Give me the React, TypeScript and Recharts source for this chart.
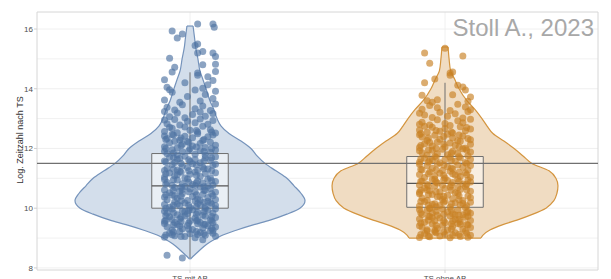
import React from 'react';
import {
  ComposedChart,
  Area,
  Scatter,
  XAxis,
  YAxis,
  CartesianGrid,
  ReferenceArea,
  ReferenceLine,
} from 'recharts';

const categories = ['TS mit AB', 'TS ohne AB'];
const yTicks = [8, 10, 12, 14, 16];
const gridLevels = [8, 9, 10, 11, 12, 13, 14, 15, 16];
const refLevel = 11.5;

// violin outline: half width (in category units) at each level, null = outside range
const levels = [8.3, 8.45, 8.6, 8.8, 9.0, 9.1, 9.27, 9.45, 9.6, 9.8, 10.0, 10.25, 10.5, 10.75, 11.0, 11.25, 11.5, 11.75, 12.0, 12.25, 12.5, 12.75, 13.0, 13.3, 13.6, 14.0, 14.3, 14.6, 15.0, 15.4, 15.7, 16.1];
const mitWidth = [0.002, 0.02, 0.039, 0.067, 0.106, 0.129, 0.184, 0.251, 0.314, 0.38, 0.431, 0.451, 0.435, 0.408, 0.38, 0.337, 0.294, 0.263, 0.239, 0.2, 0.153, 0.122, 0.106, 0.094, 0.078, 0.063, 0.051, 0.039, 0.031, 0.022, 0.018, 0.012];
const ohneWidth = [null, null, null, null, 0.141, 0.149, 0.176, 0.227, 0.282, 0.345, 0.396, 0.427, 0.439, 0.443, 0.435, 0.408, 0.341, 0.306, 0.271, 0.231, 0.188, 0.165, 0.145, 0.118, 0.086, 0.055, 0.039, 0.022, 0.016, 0.012, null, null];

// box: lower whisker, q1, median, q3, upper whisker
const mitBox = [8.33, 10.0, 10.75, 11.83, 14.55];
const ohneBox = [9.02, 10.03, 10.83, 11.73, 14.2];

// jittered observations: [offset, value]
const mitPoints = [
  [-0.03, 8.33], [-0.09, 8.42], [0.05, 8.94],
  [-0.1, 9.03], [-0.08, 9.17], [-0.06, 9.08], [-0.04, 9.22], [-0.02, 9.05], [0.0, 9.14], [0.02, 9.01], [0.04, 9.19], [0.06, 9.09], [0.08, 9.24], [0.1, 9.06], [-0.07, 9.11], [0.03, 9.12], [0.09, 9.16],
  [-0.09, 9.38], [-0.07, 9.27], [-0.05, 9.45], [-0.03, 9.31], [-0.01, 9.42], [0.01, 9.29], [0.03, 9.48], [0.05, 9.34], [0.07, 9.41], [0.09, 9.26], [-0.1, 9.49], [0.1, 9.37], [-0.04, 9.4], [0.06, 9.47],
  [-0.1, 9.56], [-0.08, 9.71], [-0.06, 9.52], [-0.04, 9.64], [-0.02, 9.74], [0.0, 9.58], [0.02, 9.67], [0.04, 9.53], [0.06, 9.73], [0.08, 9.61], [0.1, 9.69], [-0.07, 9.62], [0.03, 9.6], [0.09, 9.51],
  [-0.09, 9.83], [-0.07, 9.97], [-0.05, 9.78], [-0.03, 9.91], [-0.01, 9.81], [0.01, 9.95], [0.03, 9.86], [0.05, 9.76], [0.07, 9.93], [0.09, 9.84], [-0.1, 9.9], [0.1, 9.98], [-0.02, 9.88], [0.06, 9.99],
  [-0.1, 10.12], [-0.08, 10.03], [-0.06, 10.21], [-0.04, 10.08], [-0.02, 10.17], [0.0, 10.02], [0.02, 10.24], [0.04, 10.11], [0.06, 10.05], [0.08, 10.19], [0.1, 10.09], [-0.05, 10.14], [0.03, 10.16], [0.07, 10.23],
  [-0.09, 10.28], [-0.07, 10.44], [-0.05, 10.33], [-0.03, 10.49], [-0.01, 10.26], [0.01, 10.39], [0.03, 10.31], [0.05, 10.47], [0.07, 10.36], [0.09, 10.42], [-0.1, 10.37], [0.1, 10.29], [-0.06, 10.41], [0.04, 10.27],
  [-0.1, 10.61], [-0.08, 10.52], [-0.06, 10.69], [-0.04, 10.57], [-0.02, 10.73], [0.0, 10.64], [0.02, 10.54], [0.04, 10.71], [0.06, 10.59], [0.08, 10.66], [0.1, 10.53], [-0.03, 10.63], [0.07, 10.74],
  [-0.09, 10.86], [-0.07, 10.77], [-0.05, 10.94], [-0.03, 10.82], [-0.01, 10.98], [0.01, 10.79], [0.03, 10.91], [0.05, 10.84], [0.07, 10.97], [0.09, 10.78], [-0.1, 10.96], [0.1, 10.89], [0.02, 10.76],
  [-0.1, 11.04], [-0.08, 11.18], [-0.06, 11.09], [-0.04, 11.23], [-0.02, 11.01], [0.0, 11.14], [0.02, 11.21], [0.04, 11.06], [0.06, 11.16], [0.08, 11.02], [0.1, 11.19], [-0.05, 11.12],
  [-0.09, 11.33], [-0.07, 11.46], [-0.05, 11.28], [-0.03, 11.41], [-0.01, 11.36], [0.01, 11.49], [0.03, 11.27], [0.05, 11.38], [0.07, 11.31], [0.09, 11.44], [-0.1, 11.26], [0.1, 11.47],
  [-0.1, 11.58], [-0.08, 11.71], [-0.06, 11.53], [-0.04, 11.66], [-0.02, 11.74], [0.0, 11.56], [0.02, 11.63], [0.04, 11.52], [0.06, 11.69], [0.08, 11.61], [0.1, 11.72], [-0.05, 11.64],
  [-0.09, 11.82], [-0.07, 11.96], [-0.05, 11.78], [-0.03, 11.89], [0.0, 11.99], [0.02, 11.81], [0.04, 11.93], [0.06, 11.77], [0.08, 11.87], [0.1, 11.95], [-0.1, 11.91],
  [-0.1, 12.06], [-0.08, 12.19], [-0.05, 12.02], [-0.03, 12.14], [-0.01, 12.23], [0.01, 12.08], [0.04, 12.17], [0.06, 12.03], [0.08, 12.21], [0.1, 12.11], [-0.06, 12.24],
  [-0.09, 12.33], [-0.07, 12.47], [-0.04, 12.28], [-0.02, 12.41], [0.01, 12.36], [0.03, 12.49], [0.05, 12.27], [0.07, 12.39], [0.09, 12.45], [-0.1, 12.42],
  [-0.1, 12.57], [-0.07, 12.68], [-0.05, 12.53], [-0.02, 12.72], [0.0, 12.61], [0.03, 12.55], [0.05, 12.74], [0.08, 12.63], [0.1, 12.52], [-0.08, 12.71],
  [-0.09, 12.83], [-0.06, 12.97], [-0.04, 12.79], [-0.01, 12.91], [0.02, 12.86], [0.04, 12.99], [0.07, 12.81], [0.09, 12.94], [-0.1, 12.95],
  [-0.08, 13.06], [-0.05, 13.19], [-0.02, 13.03], [0.01, 13.14], [0.04, 13.22], [0.06, 13.08], [0.09, 13.17], [-0.1, 13.24],
  [-0.09, 13.38], [-0.06, 13.29], [-0.03, 13.46], [0.02, 13.33], [0.05, 13.42], [0.08, 13.27], [0.1, 13.49],
  [-0.1, 13.62], [-0.07, 13.88], [-0.04, 13.55], [-0.01, 13.74], [0.02, 13.96], [0.04, 13.59], [0.06, 13.81], [0.09, 13.67], [-0.08, 13.97], [0.1, 13.92],
  [-0.1, 14.3], [-0.09, 14.05], [0.03, 14.45], [0.07, 14.4], [0.09, 14.28], [0.07, 14.13], [-0.02, 14.2], [0.05, 14.02],
  [-0.07, 14.56], [-0.06, 14.72], [0.03, 14.53], [0.1, 14.58], [0.1, 14.82], [0.05, 14.8],
  [-0.08, 15.02], [0.03, 15.2], [0.09, 15.2], [0.1, 15.08], [0.05, 15.25], [0.03, 15.5],
  [-0.07, 15.93], [-0.05, 15.7], [-0.03, 15.83], [0.03, 16.17], [0.09, 16.17], [0.095, 16.06], [0.02, 15.45],
  [-0.095, 9.1], [-0.065, 9.2], [-0.035, 9.05], [-0.005, 9.3], [0.025, 9.22], [0.055, 9.15], [0.085, 9.33],
  [-0.095, 9.6], [-0.065, 9.44], [-0.035, 9.55], [-0.005, 9.5], [0.025, 9.58], [0.055, 9.45], [0.085, 9.57],
  [-0.095, 9.75], [-0.065, 9.85], [-0.035, 9.7], [-0.005, 9.92], [0.025, 9.8], [0.055, 9.88], [0.085, 9.72],
  [-0.095, 10.0], [-0.065, 10.1], [-0.035, 10.25], [-0.005, 10.1], [0.025, 10.05], [0.055, 10.2], [0.085, 10.14],
  [-0.095, 10.45], [-0.065, 10.6], [-0.035, 10.4], [-0.005, 10.55], [0.025, 10.45], [0.055, 10.6], [0.085, 10.48],
  [-0.095, 10.8], [-0.065, 10.95], [-0.035, 10.7], [-0.005, 10.88], [0.025, 10.85], [0.055, 10.72], [0.085, 10.92],
  [-0.095, 11.15], [-0.065, 11.3], [-0.035, 11.2], [-0.005, 11.25], [0.025, 11.1], [0.055, 11.32], [0.085, 11.25],
  [-0.095, 11.55], [-0.065, 11.7], [-0.035, 11.5], [-0.005, 11.62], [0.025, 11.45], [0.055, 11.58], [0.085, 11.68],
  [-0.095, 12.0], [-0.065, 11.85], [-0.035, 12.1], [-0.005, 11.92], [0.025, 12.05], [0.055, 11.9], [0.085, 12.0],
  [-0.095, 12.3], [-0.065, 12.45], [-0.035, 12.35], [-0.005, 12.2], [0.025, 12.6], [0.055, 12.3], [0.085, 12.55],
];

const ohnePoints = [
  [-0.1, 9.02], [-0.08, 9.15], [-0.06, 9.04], [-0.04, 9.21], [-0.02, 9.07], [0.0, 9.12], [0.02, 9.01], [0.04, 9.18], [0.06, 9.05], [0.08, 9.23], [0.1, 9.09], [-0.07, 9.24], [0.03, 9.1], [0.09, 9.03],
  [-0.09, 9.36], [-0.07, 9.28], [-0.05, 9.47], [-0.03, 9.32], [-0.01, 9.43], [0.01, 9.27], [0.03, 9.39], [0.05, 9.49], [0.07, 9.3], [0.09, 9.44], [-0.1, 9.41], [0.1, 9.35], [-0.04, 9.26], [0.06, 9.46],
  [-0.1, 9.64], [-0.08, 9.53], [-0.06, 9.72], [-0.04, 9.58], [-0.02, 9.67], [0.0, 9.51], [0.02, 9.74], [0.04, 9.62], [0.06, 9.55], [0.08, 9.7], [0.1, 9.59], [-0.05, 9.69], [0.03, 9.57], [0.09, 9.73],
  [-0.09, 9.79], [-0.07, 9.92], [-0.05, 9.84], [-0.03, 9.76], [-0.01, 9.97], [0.01, 9.87], [0.03, 9.81], [0.05, 9.94], [0.07, 9.78], [0.09, 9.89], [-0.1, 9.96], [0.1, 9.83], [-0.06, 9.99], [0.04, 9.77],
  [-0.1, 10.07], [-0.08, 10.22], [-0.06, 10.01], [-0.04, 10.15], [-0.02, 10.09], [0.0, 10.24], [0.02, 10.04], [0.04, 10.18], [0.06, 10.11], [0.08, 10.02], [0.1, 10.2], [-0.05, 10.13], [0.07, 10.16],
  [-0.09, 10.34], [-0.07, 10.27], [-0.05, 10.46], [-0.03, 10.38], [-0.01, 10.29], [0.01, 10.43], [0.03, 10.32], [0.05, 10.49], [0.07, 10.26], [0.09, 10.41], [-0.1, 10.48], [0.1, 10.35], [-0.02, 10.4],
  [-0.1, 10.53], [-0.08, 10.68], [-0.06, 10.58], [-0.04, 10.74], [-0.02, 10.55], [0.0, 10.66], [0.02, 10.71], [0.04, 10.52], [0.06, 10.63], [0.08, 10.73], [0.1, 10.57], [-0.07, 10.61], [0.05, 10.69],
  [-0.09, 10.91], [-0.07, 10.79], [-0.05, 10.96], [-0.03, 10.84], [-0.01, 10.77], [0.01, 10.93], [0.03, 10.86], [0.05, 10.99], [0.07, 10.81], [0.09, 10.94], [-0.1, 10.78], [0.1, 10.88], [-0.04, 10.97],
  [-0.1, 11.13], [-0.08, 11.03], [-0.06, 11.21], [-0.04, 11.08], [-0.02, 11.17], [0.0, 11.01], [0.02, 11.24], [0.04, 11.11], [0.06, 11.06], [0.08, 11.19], [0.1, 11.04], [0.03, 11.15],
  [-0.09, 11.29], [-0.07, 11.42], [-0.05, 11.34], [-0.03, 11.48], [-0.01, 11.26], [0.01, 11.39], [0.03, 11.31], [0.05, 11.45], [0.07, 11.37], [0.09, 11.28], [-0.1, 11.47], [0.1, 11.43],
  [-0.1, 11.54], [-0.08, 11.67], [-0.06, 11.59], [-0.04, 11.73], [-0.02, 11.52], [0.0, 11.63], [0.02, 11.71], [0.04, 11.57], [0.06, 11.68], [0.08, 11.53], [0.1, 11.64], [-0.05, 11.61],
  [-0.09, 11.86], [-0.07, 11.78], [-0.05, 11.94], [-0.03, 11.82], [-0.01, 11.97], [0.01, 11.79], [0.03, 11.91], [0.05, 11.84], [0.07, 11.99], [0.09, 11.76], [-0.1, 11.92], [0.1, 11.88],
  [-0.1, 12.03], [-0.08, 12.16], [-0.05, 12.08], [-0.03, 12.22], [0.0, 12.05], [0.02, 12.18], [0.04, 12.11], [0.06, 12.24], [0.08, 12.01], [0.1, 12.14], [-0.06, 12.2],
  [-0.09, 12.38], [-0.07, 12.27], [-0.04, 12.44], [-0.02, 12.31], [0.01, 12.48], [0.03, 12.35], [0.05, 12.26], [0.07, 12.42], [0.09, 12.33], [-0.1, 12.46], [0.1, 12.29],
  [-0.1, 12.62], [-0.07, 12.54], [-0.05, 12.71], [-0.02, 12.58], [0.0, 12.67], [0.03, 12.52], [0.06, 12.73], [0.08, 12.59], [0.1, 12.65], [-0.08, 12.74],
  [-0.09, 12.88], [-0.06, 12.79], [-0.03, 12.96], [0.0, 12.84], [0.02, 12.77], [0.05, 12.93], [0.07, 12.86], [0.1, 12.98], [-0.1, 12.81],
  [-0.08, 13.12], [-0.05, 13.04], [-0.02, 13.21], [0.01, 13.08], [0.04, 13.16], [0.07, 13.02], [0.09, 13.24], [-0.1, 13.18],
  [-0.09, 13.31], [-0.06, 13.44], [-0.03, 13.36], [0.02, 13.27], [0.05, 13.48], [0.08, 13.39], [0.1, 13.3],
  [-0.07, 13.6], [-0.03, 13.63], [0.09, 13.58], [0.03, 13.8], [0.08, 13.96], [0.1, 13.72], [-0.09, 13.78], [-0.05, 13.55],
  [0.07, 14.06], [-0.04, 14.33], [0.05, 14.12], [-0.08, 14.2], [0.02, 14.45],
  [0.03, 14.56], [0.02, 14.53], [-0.06, 14.85],
  [-0.08, 15.2], [0.07, 15.1], [0.0, 15.36],
  [-0.095, 9.12], [-0.065, 9.06], [-0.035, 9.18], [-0.005, 9.2], [0.025, 9.3], [0.055, 9.12], [0.085, 9.16],
  [-0.095, 9.5], [-0.065, 9.6], [-0.035, 9.42], [-0.005, 9.58], [0.025, 9.48], [0.055, 9.62], [0.085, 9.45],
  [-0.095, 9.85], [-0.065, 9.72], [-0.035, 9.9], [-0.005, 9.8], [0.025, 9.95], [0.055, 9.76], [0.085, 9.86],
  [-0.095, 10.22], [-0.065, 10.1], [-0.035, 10.05], [-0.005, 10.2], [0.025, 10.15], [0.055, 10.28], [0.085, 10.08],
  [-0.095, 10.6], [-0.065, 10.45], [-0.035, 10.55], [-0.005, 10.4], [0.025, 10.6], [0.055, 10.42], [0.085, 10.62],
  [-0.095, 10.9], [-0.065, 10.75], [-0.035, 10.88], [-0.005, 10.95], [0.025, 10.78], [0.055, 10.9], [0.085, 10.8],
  [-0.095, 11.3], [-0.065, 11.15], [-0.035, 11.28], [-0.005, 11.1], [0.025, 11.35], [0.055, 11.2], [0.085, 11.12],
  [-0.095, 11.65], [-0.065, 11.55], [-0.035, 11.7], [-0.005, 11.45], [0.025, 11.6], [0.055, 11.72], [0.085, 11.5],
  [-0.095, 12.1], [-0.065, 11.95], [-0.035, 12.0], [-0.005, 12.15], [0.025, 11.85], [0.055, 12.05], [0.085, 11.95],
  [-0.095, 12.5], [-0.065, 12.35], [-0.035, 12.6], [-0.005, 12.4], [0.025, 12.55], [0.055, 12.45], [0.085, 12.7],
];

// one outline table per violin, only the levels inside its range
const violinRows = (center: number, widths: (number | null)[]) =>
  levels
    .map((y, i) => ({ y, w: widths[i] }))
    .filter((r) => r.w != null)
    .map((r) => ({ y: r.y, range: [center - (r.w as number), center + (r.w as number)] }));

const mitViolin = violinRows(0, mitWidth);
const ohneViolin = violinRows(1, ohneWidth);

const mitScatter = mitPoints.map(([j, v]) => ({ x: 0 + j, y: v }));
const ohneScatter = ohnePoints.map(([j, v]) => ({ x: 1 + j, y: v }));

const boxes = [
  { idx: 0, stats: mitBox },
  { idx: 1, stats: ohneBox },
];

const violins = [
  { rows: mitViolin, fill: '#d3deeb', stroke: '#7593bb', dotFill: '#4f74a3', points: mitScatter },
  { rows: ohneViolin, fill: '#f0dcc2', stroke: '#d4953f', dotFill: '#c98125', points: ohneScatter },
];

const font = '"Liberation Sans", Arial, Helvetica, sans-serif';

const dot = (fill: string) => (props: any) =>
  <circle cx={props.cx} cy={props.cy} r={3.5} fill={fill} fillOpacity={0.66} />;

export default function App() {
  return (
    <div style={{ position: 'absolute', left: 0, top: 0, width: 611, height: 279, background: '#fff', fontFamily: font }}>
      <ComposedChart
        width={611}
        height={279}
        layout="vertical"
        margin={{ top: 12, right: 13, bottom: 0, left: 0 }}
      >
        <CartesianGrid
          stroke="#ececec"
          strokeWidth={0.8}
          horizontalValues={gridLevels}
          verticalValues={[0, 1]}
        />
        <XAxis
          type="number"
          dataKey="x"
          domain={[-0.6, 1.6]}
          allowDataOverflow
          ticks={[0, 1]}
          tickFormatter={(v: number) => categories[v] ?? ''}
          height={9}
          axisLine={false}
          tickLine={{ stroke: '#cfcfcf' }}
          tickSize={3}
          tickMargin={2}
          tick={{ fontSize: 8, fill: '#4d4d4d', fontFamily: font }}
        />
        <YAxis
          type="number"
          dataKey="y"
          reversed
          domain={[7.93, 16.57]}
          allowDataOverflow
          ticks={yTicks}
          width={37}
          axisLine={false}
          tickLine={{ stroke: '#cfcfcf' }}
          tickSize={3}
          tickMargin={1}
          tick={{ fontSize: 8, fill: '#4d4d4d', fontFamily: font }}
        />
        <ReferenceArea x1={-0.6} x2={1.6} y1={7.93} y2={16.57} fill="none" stroke="#d6d6d6" strokeWidth={1} />
        {violins.map((v, i) => (
          <Area
            key={`v${i}`}
            data={v.rows}
            dataKey="range"
            type="monotone"
            fill={v.fill}
            fillOpacity={1}
            stroke={v.stroke}
            strokeWidth={1.2}
            dot={false}
            activeDot={false}
            isAnimationActive={false}
          />
        ))}
        {violins.map((v, i) => {
          const first = v.rows[0];
          const last = v.rows[v.rows.length - 1];
          return [first, last].map((r, k) => (
            <ReferenceLine
              key={`cap${i}-${k}`}
              segment={[{ x: r.range[0], y: r.y }, { x: r.range[1], y: r.y }]}
              stroke={v.stroke}
              strokeWidth={1.2}
            />
          ));
        })}
        {violins.map((v, i) => (
          <Scatter key={`s${i}`} data={v.points} shape={dot(v.dotFill)} isAnimationActive={false} />
        ))}
        {boxes.map(({ idx, stats }) => (
          <ReferenceLine
            key={`wl${idx}`}
            segment={[{ x: idx, y: stats[0] }, { x: idx, y: stats[1] }]}
            stroke="#6f6f6f"
            strokeWidth={1}
          />
        ))}
        {boxes.map(({ idx, stats }) => (
          <ReferenceLine
            key={`wu${idx}`}
            segment={[{ x: idx, y: stats[3] }, { x: idx, y: stats[4] }]}
            stroke="#6f6f6f"
            strokeWidth={1}
          />
        ))}
        {boxes.map(({ idx, stats }) => (
          <ReferenceArea
            key={`b${idx}`}
            x1={idx - 0.15}
            x2={idx + 0.15}
            y1={stats[1]}
            y2={stats[3]}
            fill="#ffffff"
            fillOpacity={0.5}
            stroke="#6f6f6f"
            strokeWidth={1}
          />
        ))}
        {boxes.map(({ idx, stats }) => (
          <ReferenceLine
            key={`m${idx}`}
            segment={[{ x: idx - 0.15, y: stats[2] }, { x: idx + 0.15, y: stats[2] }]}
            stroke="#555555"
            strokeWidth={1.3}
          />
        ))}
        <ReferenceLine y={refLevel} stroke="#707070" strokeWidth={1.2} />
      </ComposedChart>
      <div
        style={{
          position: 'absolute',
          left: 20 - 70,
          top: 140 - 6,
          width: 140,
          height: 12,
          lineHeight: '12px',
          fontSize: 9,
          color: '#333',
          textAlign: 'center',
          transform: 'rotate(-90deg)',
          whiteSpace: 'nowrap',
        }}
      >
        Log. Zeitzahl nach TS
      </div>
      <div
        style={{
          position: 'absolute',
          right: 17,
          top: 16,
          fontSize: 24,
          lineHeight: '24px',
          color: '#a8a8a8',
          whiteSpace: 'nowrap',
        }}
      >
        Stoll A., 2023
      </div>
    </div>
  );
}
